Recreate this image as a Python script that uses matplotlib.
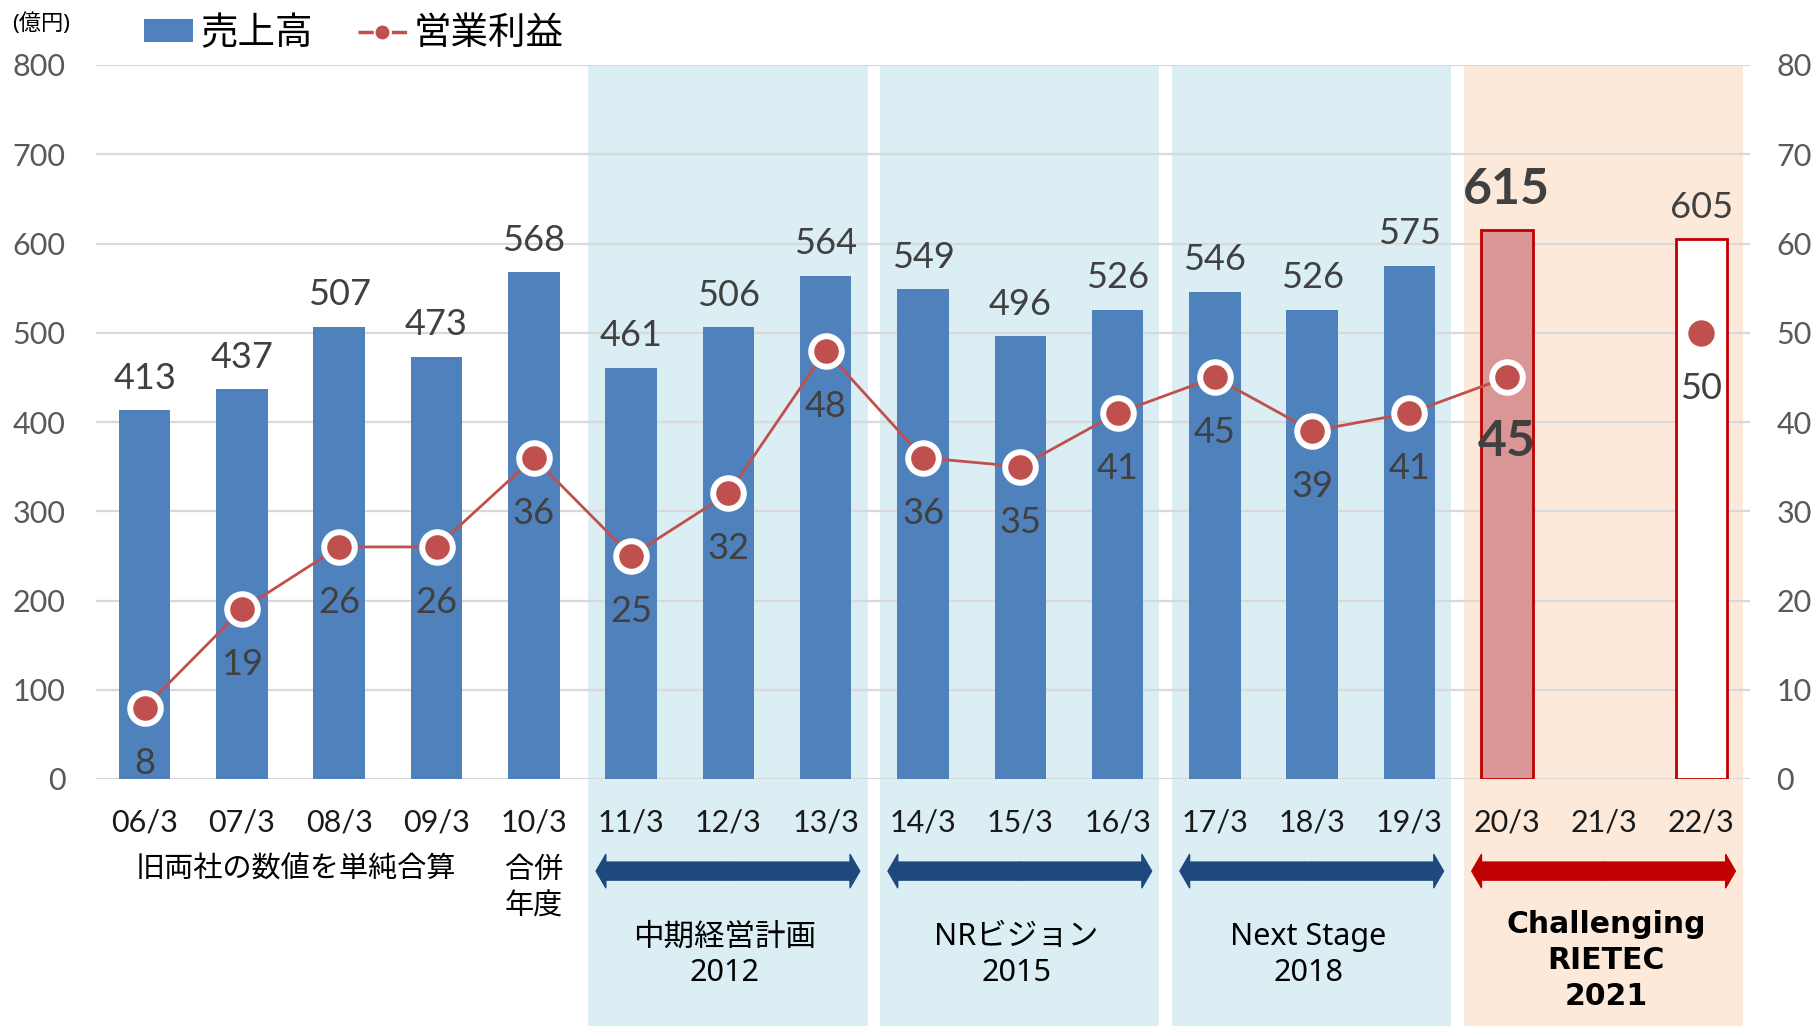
import numpy as np
import matplotlib
matplotlib.use('Agg')
import matplotlib.pyplot as plt
from matplotlib.patches import Rectangle, FancyArrowPatch, Patch, ArrowStyle
from matplotlib.lines import Line2D
from matplotlib.transforms import blended_transform_factory

plt.rcParams['font.family'] = ['Lato', 'Noto Sans CJK JP', 'DejaVu Sans']
WIDE = ['Noto Sans', 'Noto Sans CJK JP', 'DejaVu Sans']
BOLDF = ['DejaVu Sans']

# ---------------- data ----------------
categories = ['06/3', '07/3', '08/3', '09/3', '10/3', '11/3', '12/3', '13/3', '14/3',
              '15/3', '16/3', '17/3', '18/3', '19/3', '20/3', '21/3', '22/3']
sales = [413, 437, 507, 473, 568, 461, 506, 564, 549, 496, 526, 546, 526, 575, 615, np.nan, 605]
profit = [8, 19, 26, 26, 36, 25, 32, 48, 36, 35, 41, 45, 39, 41, 45, np.nan, 50]
left_ticks = [0, 100, 200, 300, 400, 500, 600, 700, 800]
right_ticks = [0, 10, 20, 30, 40, 50, 60, 70, 80]
period_labels = ['中期経営計画\n2012', 'NRビジョン\n2015', 'Next Stage\n2018', 'Challenging\nRIETEC\n2021']
period_first = [5, 8, 11, 14]
period_last = [7, 10, 13, 16]
legend_labels = ['売上高', '営業利益']
unit_label = '(億円)'
merged_label = '旧両社の数値を単純合算'
merger_year_label = '合併\n年度'

# ---------------- styles ----------------
BLUE = '#4F81BD'
RED = '#C0504D'
DARKRED = '#C00000'
NAVY = '#1F497D'
SPAN_BLUE = '#DAEEF3'
SPAN_ORANGE = '#FDE9D9'
GRID = '#D9D9D9'
LABEL = '#404040'
AXLAB = '#595959'

fig = plt.figure(figsize=(18.2, 10.26), dpi=100)
fig.patch.set_facecolor('white')
ax = fig.add_axes([96 / 1820, 1 - 779 / 1026, (1750 - 96) / 1820, (779 - 65) / 1026])
ax.set_facecolor('none')
ax2 = ax.twinx()
ax2.set_facecolor('none')

x = np.arange(len(categories))
n = len(categories)
trans = blended_transform_factory(ax.transData, ax.transAxes)

# period background spans
for i, (a, b) in enumerate(zip(period_first, period_last)):
    col = SPAN_ORANGE if i == len(period_first) - 1 else SPAN_BLUE
    ax.add_patch(Rectangle((a - 0.44, -0.36), (b + 0.43) - (a - 0.44), 1.36,
                           transform=trans, facecolor=col, edgecolor='none',
                           zorder=0.2, clip_on=False))

# bars
bw = 0.53
colors = [BLUE] * n
edges = [BLUE] * n
colors[14] = '#D99694'
edges[14] = DARKRED
colors[16] = 'white'
edges[16] = DARKRED
for i in range(n):
    if np.isnan(sales[i]):
        continue
    lw = 2.0 if edges[i] == DARKRED else 0
    ax.bar(x[i], sales[i], width=bw, color=colors[i], edgecolor=edges[i],
           linewidth=lw, zorder=2)
    if i == 14:
        ax.annotate(f'{sales[i]:.0f}', (x[i], sales[i]), xytext=(0, 29),
                    textcoords='offset points', ha='center', va='center',
                    fontsize=36, fontweight='bold', color=LABEL, zorder=5)
    else:
        ax.annotate(f'{sales[i]:.0f}', (x[i], sales[i]), xytext=(0, 23),
                    textcoords='offset points', ha='center', va='center',
                    fontsize=26, color=LABEL, zorder=5)

ax.set_xlim(-0.5, n - 0.5)
ax.set_ylim(0, 800)
ax.set_yticks(left_ticks)
ax.set_xticks(x)
ax.set_xticklabels(categories)
ax.set_axisbelow(True)
ax.yaxis.grid(True, color=GRID, linewidth=1.6)
ax.tick_params(axis='y', length=0, pad=22, labelsize=22, labelcolor=AXLAB)
ax.tick_params(axis='x', length=0, pad=21.5, labelsize=22, labelcolor='#1a1a1a')
for s in ax.spines.values():
    s.set_visible(False)

# profit line
ax2.set_ylim(0, 80)
ax2.set_yticks(right_ticks)
ax2.tick_params(axis='y', length=0, pad=19, labelsize=22, labelcolor=AXLAB)
for s in ax2.spines.values():
    s.set_visible(False)
ax2.plot(x[:15], profit[:15], color=RED, linewidth=2.0, marker='o', markersize=22,
         markerfacecolor=RED, markeredgecolor='white', markeredgewidth=4.3, zorder=3)
ax2.plot(x[16], profit[16], linestyle='none', marker='o', markersize=19,
         markerfacecolor=RED, markeredgecolor=RED, markeredgewidth=0, zorder=3)
for i in range(n):
    if np.isnan(profit[i]):
        continue
    if i == 14:
        ax2.annotate(f'{profit[i]:.0f}', (x[i], profit[i]), xytext=(0, -46),
                     textcoords='offset points', ha='center', va='center',
                     fontsize=36, fontweight='bold', color=LABEL, zorder=5)
    else:
        ax2.annotate(f'{profit[i]:.0f}', (x[i], profit[i]), xytext=(0, -40),
                     textcoords='offset points', ha='center', va='center',
                     fontsize=26, color=LABEL, zorder=5)

# period arrows and labels
style = ArrowStyle.Simple(head_length=7, head_width=24, tail_width=13)
for i, (a, b) in enumerate(zip(period_first, period_last)):
    col = DARKRED if i == len(period_first) - 1 else NAVY
    x0, x1 = a - 0.36, b + 0.35
    mid = (x0 + x1) / 2
    for end in (x0, x1):
        ax.add_patch(FancyArrowPatch((mid, -0.129), (end, -0.129), arrowstyle=style,
                                     mutation_scale=1, transform=trans, color=col,
                                     shrinkA=0, shrinkB=0, clip_on=False, zorder=3))
    bold = i == len(period_first) - 1
    if bold:
        ax.text((a + b) / 2 + 0.02, -0.254, period_labels[i], transform=trans,
                ha='center', va='center', fontsize=21.5, family=BOLDF,
                fontweight='bold', color='black', linespacing=1.31, zorder=3)
    else:
        ax.text((a + b) / 2 - 0.04, -0.247, period_labels[i], transform=trans,
                ha='center', va='center', fontsize=22, family=WIDE,
                color='black', linespacing=1.25, zorder=3)

ax.text(1.55, -0.127, merged_label, transform=trans, ha='center', va='center',
        fontsize=21, color='black', family=WIDE)
ax.text(4.0, -0.154, merger_year_label, transform=trans, ha='center', va='center',
        fontsize=21, color='black', linespacing=1.35, family=WIDE)

fig.text(12 / 1820, 1 - 24 / 1026, unit_label, ha='left', va='center', fontsize=16,
         color='black', family=WIDE)

handles = [Patch(facecolor=BLUE, edgecolor='none'),
           Line2D([], [], color=RED, linestyle=(0, (4.4, 5.2)), linewidth=2.5,
                  marker='o', markersize=10, markerfacecolor=RED, markeredgewidth=0)]
fig.legend(handles, legend_labels, loc='center left',
           bbox_to_anchor=(144 / 1820, 1 - 33 / 1026), ncol=2, frameon=False,
           fontsize=27, handlelength=1.3, handleheight=0.55, handletextpad=0.2,
           columnspacing=1.2, borderpad=0, borderaxespad=0)

fig.savefig('out.png', dpi=100)
